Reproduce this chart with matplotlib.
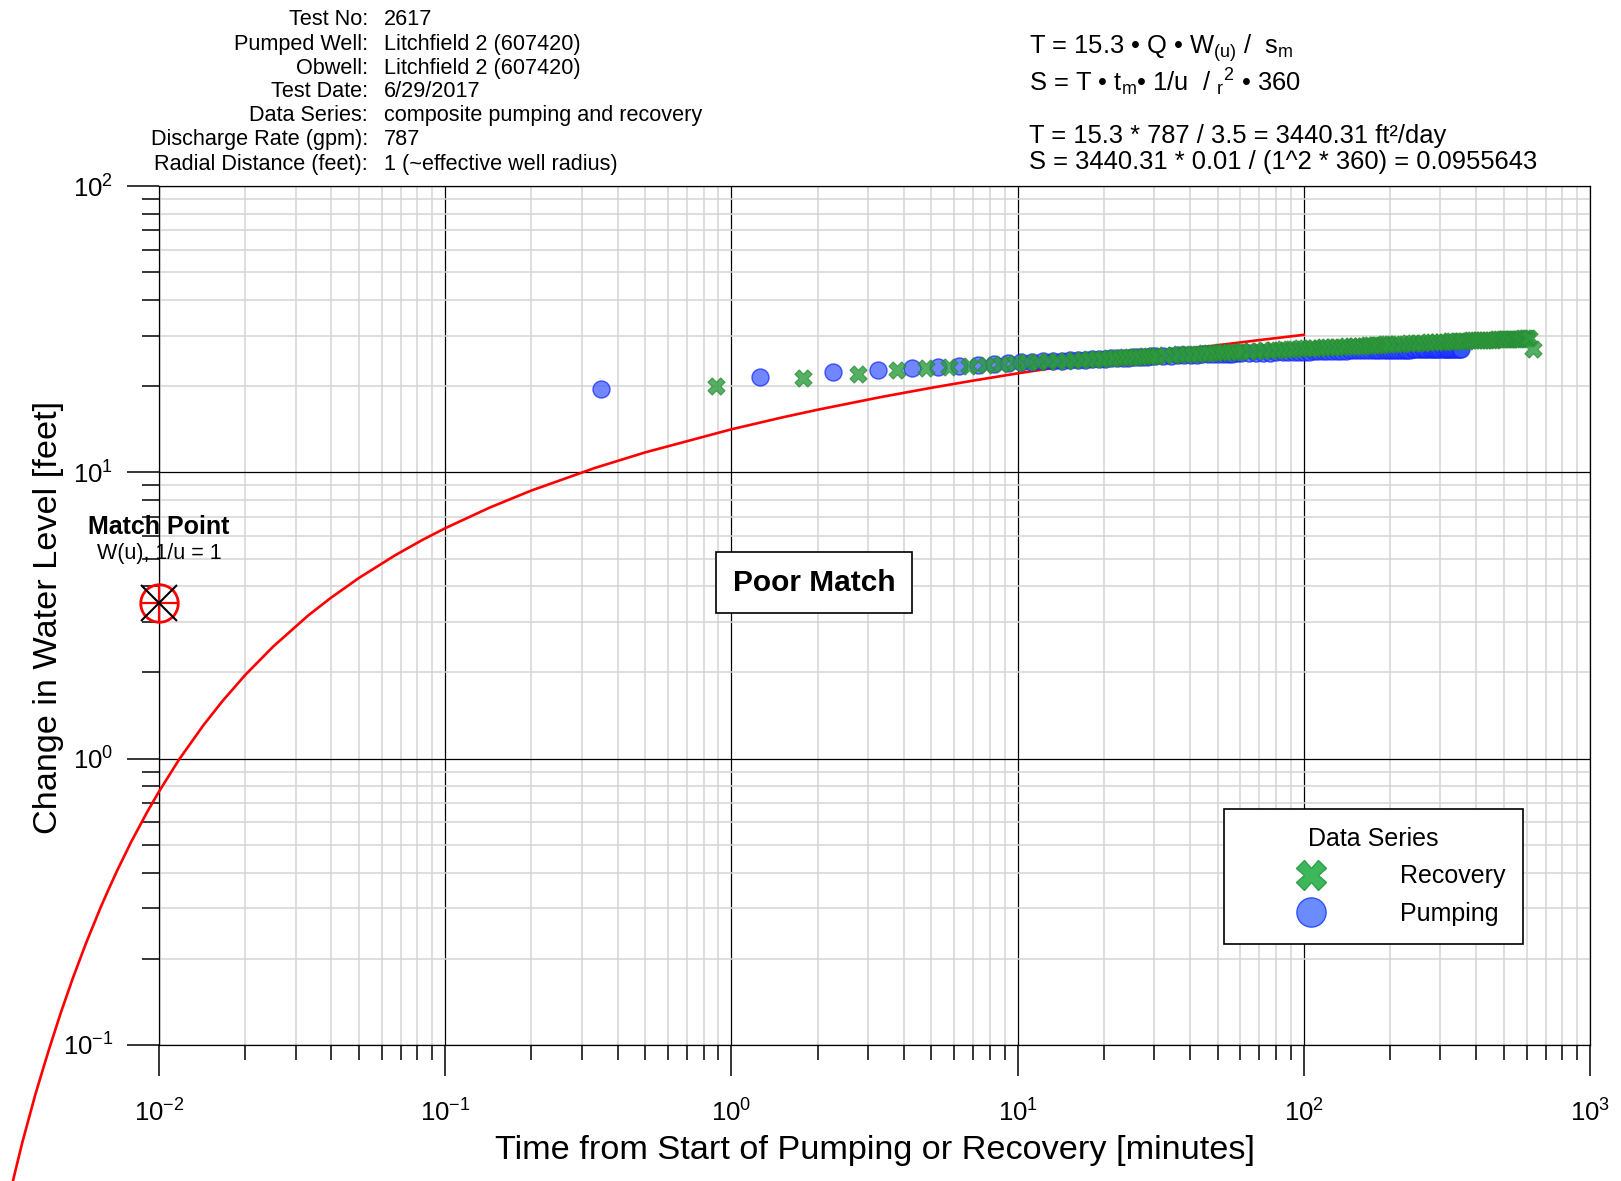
# Theis type-curve match plot (composite pumping / recovery)
import numpy as np
import matplotlib
matplotlib.use('Agg')
from matplotlib import pyplot as plt
from matplotlib.ticker import LogLocator, NullFormatter
from matplotlib.lines import Line2D

plt.rcParams['font.family'] = ['Liberation Sans', 'DejaVu Sans']
plt.rcParams['mathtext.fontset'] = 'custom'
plt.rcParams['mathtext.rm'] = 'Liberation Sans'
plt.rcParams['mathtext.it'] = 'Liberation Sans:italic'
plt.rcParams['mathtext.default'] = 'regular'
plt.rcParams['axes.unicode_minus'] = False

# header block
info_labels = ['Test No:', 'Pumped Well:', 'Obwell:', 'Test Date:', 'Data Series:',
               'Discharge Rate (gpm):', 'Radial Distance (feet):']
info_values = ['2617', 'Litchfield 2 (607420)', 'Litchfield 2 (607420)', '6/29/2017',
               'composite pumping and recovery', '787', '1 (~effective well radius)']

formula_lines = [r'T = 15.3 • Q • W$_{\mathregular{(u)}}$ /  s$_{\mathregular{m}}$',
                 r'S = T • t$_{\mathregular{m}}$• 1/u  / $_{\mathregular{r}}$$^{\mathregular{ 2}}$ • 360',
                 'T = 15.3 * 787 / 3.5 = 3440.31 ft²/day',
                 'S = 3440.31 * 0.01 / (1^2 * 360) = 0.0955643']

# red type curve (minutes, feet)
curve_t = [0.002, 0.002222, 0.0025, 0.002857, 0.00333, 0.0037, 0.004, 0.004167, 0.004545,
           0.005, 0.005556, 0.00625, 0.00667, 0.007143, 0.008, 0.00909, 0.01, 0.01176,
           0.01429, 0.01667, 0.02, 0.025, 0.0333, 0.04, 0.05, 0.0667, 0.0833, 0.1, 0.1429,
           0.2, 0.3333, 0.5, 1.0, 1.5, 2.0, 3.333, 5.0, 7.0, 10.0, 14.29, 20.0, 33.33,
           50.0, 70.0, 100.0]
curve_s = [0.00402, 0.00726, 0.01323, 0.0244, 0.0457, 0.0673, 0.0872, 0.0995, 0.1302,
           0.1712, 0.2265, 0.3021, 0.3501, 0.4068, 0.5128, 0.651, 0.7678, 0.994,
           1.308, 1.590, 1.959, 2.458, 3.170, 3.655, 4.279, 5.126, 5.809, 6.380, 7.528,
           8.638, 10.357, 11.741, 14.133, 15.539, 16.541, 18.322, 19.738, 20.912, 22.160,
           23.408, 24.585, 26.372, 27.791, 28.968, 30.216]

# pumping data
pump_t = [0.35, 1.26, 2.26, 3.26, 4.26, 5.26, 6.26, 7.26, 8.26, 9.26, 10.26,
          11.26, 12.26, 13.26, 14.26, 15.26, 16.26, 17.26, 18.26, 19.26, 20.26,
          21.26, 22.26, 23.26, 24.26, 25.26, 26.26, 27.26, 28.26, 29.26, 30.26,
          32.26, 34.26, 36.26, 38.26, 40.26, 42.26, 44.26, 46.26, 48.26, 50.26,
          52.26, 54.26, 56.26, 58.26, 60.26,
          64.26, 68.26, 72.26, 76.26, 80.26, 84.26, 88.26, 92.26, 96.26, 100.26,
          104.26, 108.26, 112.26, 116.26, 120.26,
          125.26, 130.26, 135.26, 140.26, 145.26, 150.26, 155.26, 160.26, 165.26, 170.26,
          175.26, 180.26, 185.26, 190.26, 195.26, 200.26, 205.26, 210.26, 215.26, 220.26,
          225.26, 230.26, 235.26, 240.26, 245.26, 250.26, 255.26, 260.26, 265.26, 270.26,
          275.26, 280.26, 285.26, 290.26, 295.26, 300.26, 305.26, 310.26, 315.26, 320.26,
          325.26, 330.26, 335.26, 340.26, 345.26, 350.26, 355.26]
pump_s = [19.6, 21.5, 22.4, 22.8, 23.1, 23.4, 23.6, 23.75, 23.9, 24.05, 24.2,
          24.3, 24.4, 24.48, 24.56, 24.63, 24.7, 24.77, 24.84, 24.9, 24.96,
          25.02, 25.07, 25.12, 25.17, 25.22, 25.27, 25.32, 25.37, 25.42, 25.46,
          25.52, 25.58, 25.63, 25.68, 25.72, 25.76, 25.8, 25.84, 25.87, 25.9,
          25.93, 25.96, 25.99, 26.02, 26.05,
          26.09, 26.13, 26.17, 26.2, 26.23, 26.26, 26.29, 26.32, 26.35, 26.38,
          26.41, 26.44, 26.47, 26.5, 26.53,
          26.56, 26.58, 26.60, 26.62, 26.64, 26.66, 26.67, 26.69, 26.70, 26.72,
          26.73, 26.74, 26.75, 26.76, 26.77, 26.78, 26.79, 26.80, 26.81, 26.82,
          26.83, 26.84, 26.85, 26.86, 26.86, 26.87, 26.88, 26.88, 26.89, 26.89,
          26.90, 26.90, 26.91, 26.91, 26.92, 26.92, 26.93, 26.93, 26.94, 26.94,
          26.95, 26.95, 26.96, 26.96, 26.97, 26.97, 26.98]

# recovery data
rec_t = [0.88, 1.78, 2.78, 3.78, 4.78, 5.78, 6.78, 7.78, 8.78, 9.78, 10.78,
         11.78, 12.78, 13.78, 14.78, 15.78, 16.78, 17.78, 18.78, 19.78, 20.78,
         21.78, 22.78, 23.78, 24.78, 25.78, 26.78, 27.78, 28.78, 29.78, 30.78,
         32.78, 34.78, 36.78, 38.78, 40.78, 42.78, 44.78, 46.78, 48.78, 50.78,
         52.78, 54.78, 56.78, 58.78, 60.78,
         64.78, 68.78, 72.78, 76.78, 80.78, 84.78, 88.78, 92.78, 96.78, 100.78,
         104.78, 108.78, 112.78, 116.78, 120.78,
         125.78, 130.78, 135.78, 140.78, 145.78, 150.78, 155.78, 160.78, 165.78, 170.78,
         175.78, 180.78, 185.78, 190.78, 195.78, 200.78,
         210.78, 220.78, 230.78, 240.78, 250.78, 260.78, 270.78, 280.78, 290.78, 300.78,
         310.78, 320.78, 330.78, 340.78, 350.78, 360.78, 370.78, 380.78, 390.78, 400.78,
         410.78, 420.78, 430.78, 440.78, 450.78, 460.78, 470.78, 480.78, 490.78, 500.78,
         510.78, 520.78, 530.78, 540.78, 550.78, 560.78, 570.78, 580.78, 590.78, 600.78,
         612.78, 630.78]
rec_s = [20.1, 21.3, 22.1, 22.8, 23.1, 23.35, 23.55, 23.75, 23.9, 24.05, 24.2,
         24.3, 24.4, 24.48, 24.56, 24.64, 24.72, 24.8, 24.87, 24.94, 25.01,
         25.08, 25.14, 25.2, 25.26, 25.32, 25.38, 25.43, 25.48, 25.53, 25.58,
         25.66, 25.74, 25.81, 25.88, 25.94, 26.0, 26.06, 26.12, 26.17, 26.22,
         26.27, 26.32, 26.37, 26.41, 26.45,
         26.55, 26.62, 26.7, 26.77, 26.84, 26.9, 26.96, 27.02, 27.07, 27.12,
         27.17, 27.22, 27.27, 27.31, 27.35,
         27.4, 27.45, 27.5, 27.55, 27.6, 27.65, 27.69, 27.73, 27.77, 27.81,
         27.85, 27.89, 27.93, 27.97, 28.01, 28.05,
         28.12, 28.18, 28.24, 28.3, 28.35, 28.4, 28.45, 28.5, 28.54, 28.58,
         28.62, 28.66, 28.7, 28.74, 28.78, 28.81, 28.84, 28.87, 28.9, 28.93,
         28.96, 28.99, 29.02, 29.05, 29.08, 29.1, 29.12, 29.14, 29.16, 29.18,
         29.2, 29.22, 29.24, 29.26, 29.28, 29.3, 29.32, 29.34, 29.36, 29.38,
         29.4, 27.0]

match_t = 0.01
match_s = 3.5

W, H = 1621, 1181
fig = plt.figure(figsize=(W / 100, H / 100), dpi=100)
ax = fig.add_axes([159 / W, 1 - 1045 / H, 1431 / W, 859 / H])
ax.set_xscale('log')
ax.set_yscale('log')
ax.set_xlim(1e-2, 1e3)
ax.set_ylim(1e-1, 1e2)

for a in (ax.xaxis, ax.yaxis):
    a.set_minor_locator(LogLocator(base=10, subs=np.arange(2, 10)))
    a.set_minor_formatter(NullFormatter())
ax.grid(which='minor', color='#d4d4d4', lw=1.1)
ax.grid(which='major', color='black', lw=0.9)
ax.set_axisbelow(True)
for s in ax.spines.values():
    s.set_linewidth(0.9)

ax.tick_params(axis='x', which='major', length=22, width=1.1, pad=17, labelsize=18.5)
ax.tick_params(axis='x', which='minor', length=11, width=1.1)
ax.tick_params(axis='y', which='major', length=23, width=1.1, pad=10, labelsize=18.5)
ax.tick_params(axis='y', which='minor', length=12, width=1.1)

# type curve
ax.plot(curve_t, curve_s, color='red', lw=1.9, clip_on=False, zorder=3)

# data
ax.scatter(pump_t, pump_s, s=150, marker='o', facecolor='#3355ff', edgecolor='#1020ff',
           lw=1, alpha=0.7, zorder=4)
ax.scatter(rec_t, rec_s, s=150, marker='X', facecolor='#2c9c3c', edgecolor='#2a8a35',
           lw=0.8, alpha=0.8, zorder=5)

# match point
ax.plot(match_t, match_s, marker='o', ms=27, mfc='none', mec='red', mew=2,
        clip_on=False, zorder=6)
ax.plot(match_t, match_s, marker='+', ms=27, mec='red', mew=1.6, clip_on=False, zorder=6)
ax.plot(match_t, match_s, marker='x', ms=26, mec='black', mew=1.5, clip_on=False, zorder=7)
ax.text(match_t, 6.44, 'Match Point', ha='center', va='center', fontsize=18,
        fontweight='bold', clip_on=False, zorder=8)
ax.text(match_t, 5.19, 'W(u), 1/u = 1', ha='center', va='center', fontsize=15.5,
        clip_on=False, zorder=8)

ax.text(0.4577, 0.5384, 'Poor Match', transform=ax.transAxes, ha='center', va='center',
        fontsize=21.5, fontweight='bold', zorder=9,
        bbox=dict(boxstyle='square,pad=0.55', fc='white', ec='black', lw=1.2))

# legend
h_rec = Line2D([], [], ls='none', marker='X', ms=21, mfc='#3cb85a', mec='#2fa04a', mew=1)
h_pump = Line2D([], [], ls='none', marker='o', ms=21, mfc='#6b8cff', mec='#3050ff', mew=1)
leg = ax.legend([h_rec, h_pump], ['Recovery', 'Pumping'], title='Data Series',
                fontsize=18, title_fontsize=18, loc='upper left',
                bbox_to_anchor=(0.7442, 0.2747), borderaxespad=0, fancybox=False,
                edgecolor='black', framealpha=1, borderpad=0.7, handlelength=5.6,
                handletextpad=0.75, labelspacing=0.55)
leg.get_frame().set_linewidth(1.2)
leg.set_zorder(10)

# header text
rows_y = [19.6, 44.4, 68.2, 91.9, 115.7, 139.5, 164.3]
for lab, val, y in zip(info_labels, info_values, rows_y):
    fig.text(368 / W, 1 - y / H, lab, ha='right', va='center', fontsize=15.6)
    fig.text(383.5 / W, 1 - y / H, val, ha='left', va='center', fontsize=15.6)

for txt, y in zip(formula_lines, [54, 91, 142.5, 169.5]):
    fig.text(1028.6 / W, 1 - y / H, txt, ha='left', va='baseline', fontsize=18.4)

fig.text(875 / W, 1 - 1150 / H, 'Time from Start of Pumping or Recovery [minutes]',
         ha='center', va='center', fontsize=24.7)
fig.text(49 / W, 1 - 617 / H, 'Change in Water Level [feet]', rotation=90,
         ha='center', va='center', fontsize=24.7)

fig.savefig('out.png', dpi=100)
